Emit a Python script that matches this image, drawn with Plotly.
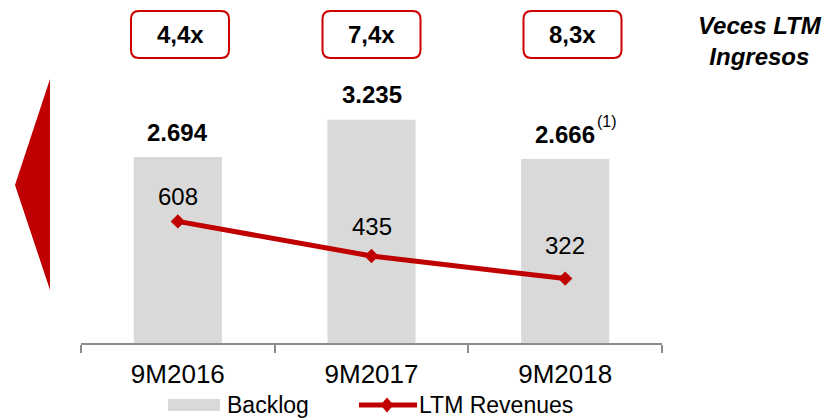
import plotly.graph_objects as go

# ---- data ----
categories = ["9M2016", "9M2017", "9M2018"]
backlog = [2694, 3235, 2666]
ltm_revenues = [608, 435, 322]
multiples = ["4,4x", "7,4x", "8,3x"]
series_names = ["Backlog", "LTM Revenues"]
side_title = "Veces LTM<br>Ingresos"
footnote = "(1)"

# ---- styling / positions ----
W, H = 825, 419
L, R, T, B = 81, 662, 0, 343  # plot area pixels
ltm_label_shift = [25, 30, 33]
box_centers = [180, 371.5, 572.5]

def xp(px):
    return (px - L) / (R - L)

def yp(py):
    return (B - py) / (B - T)

RED = "#C00000"
GRAY = "#D9D9D9"
FONT = "Liberation Sans, Arial, sans-serif"

def fmt(v):
    return f"{v:,}".replace(",", ".")

fig = go.Figure()
fig.add_trace(go.Bar(x=categories, y=backlog, name=series_names[0],
                     marker=dict(color=GRAY, line=dict(width=0)),
                     width=0.455, showlegend=False, hoverinfo="skip"))
fig.add_trace(go.Scatter(x=categories, y=ltm_revenues, name=series_names[1],
                         mode="lines+markers", yaxis="y2",
                         line=dict(color=RED, width=5),
                         marker=dict(symbol="diamond", size=11, color=RED),
                         showlegend=False, hoverinfo="skip"))

annotations = []
# bar value labels
for c, v in zip(categories, backlog):
    annotations.append(dict(x=c, y=v, xref="x", yref="y", text="<b>%s</b>" % fmt(v),
                            showarrow=False, yanchor="middle", yshift=25,
                            font=dict(family=FONT, size=24, color="black")))
# footnote on last bar
annotations.append(dict(x=categories[-1], y=backlog[-1], xref="x", yref="y", text=footnote,
                        showarrow=False, xanchor="left", yanchor="middle",
                        xshift=30, yshift=38,
                        font=dict(family=FONT, size=16, color="black")))
# line value labels
for c, v, s in zip(categories, ltm_revenues, ltm_label_shift):
    annotations.append(dict(x=c, y=v, xref="x", yref="y2", text=str(v),
                            showarrow=False, yanchor="middle", yshift=s,
                            font=dict(family=FONT, size=24, color="black")))

shapes = []
# multiple boxes
hw, hh, r = 49, 23.5, 8
box_path = (f"M{-hw + r},{-hh} L{hw - r},{-hh} Q{hw},{-hh} {hw},{-hh + r} "
            f"L{hw},{hh - r} Q{hw},{hh} {hw - r},{hh} L{-hw + r},{hh} "
            f"Q{-hw},{hh} {-hw},{hh - r} L{-hw},{-hh + r} Q{-hw},{-hh} {-hw + r},{-hh} Z")
for cx, m in zip(box_centers, multiples):
    shapes.append(dict(type="path", xref="paper", yref="paper",
                       xsizemode="pixel", ysizemode="pixel",
                       xanchor=xp(cx), yanchor=yp(34.5), path=box_path,
                       line=dict(color="#D00000", width=2), fillcolor="white"))
    annotations.append(dict(x=xp(cx), y=yp(34.5), xref="paper", yref="paper",
                            text="<b>%s</b>" % m, showarrow=False,
                            xanchor="center", yanchor="middle",
                            font=dict(family=FONT, size=24, color="black")))

# side title
annotations.append(dict(x=xp(760), y=yp(41), xref="paper", yref="paper",
                        text="<b><i>%s</i></b>" % side_title, showarrow=False,
                        xanchor="center", yanchor="middle",
                        font=dict(family=FONT, size=24, color="black")))

# red triangle on the left
shapes.append(dict(type="path", xref="paper", yref="paper",
                   path=f"M{xp(50)},{yp(79)} L{xp(15)},{yp(185)} L{xp(50)},{yp(290)} Z",
                   fillcolor=RED, line=dict(width=0)))

# custom legend
ly = 405
shapes.append(dict(type="rect", xref="paper", yref="paper",
                   x0=xp(168), x1=xp(220), y0=yp(ly - 6), y1=yp(ly + 6),
                   fillcolor=GRAY, line=dict(width=0)))
shapes.append(dict(type="line", xref="paper", yref="paper",
                   x0=xp(359), x1=xp(417), y0=yp(ly), y1=yp(ly),
                   line=dict(color=RED, width=5)))
shapes.append(dict(type="path", xref="paper", yref="paper",
                   xsizemode="pixel", ysizemode="pixel",
                   xanchor=xp(387), yanchor=yp(ly),
                   path="M0,-7.5 L6.5,0 L0,7.5 L-6.5,0 Z",
                   fillcolor=RED, line=dict(width=0)))
annotations.append(dict(x=xp(225), y=yp(ly), xref="paper", yref="paper",
                        text=series_names[0], showarrow=False,
                        xanchor="left", yanchor="middle",
                        font=dict(family=FONT, size=23, color="black")))
annotations.append(dict(x=xp(417), y=yp(ly), xref="paper", yref="paper",
                        text=series_names[1], showarrow=False,
                        xanchor="left", yanchor="middle",
                        font=dict(family=FONT, size=23, color="black")))

fig.update_layout(
    width=W, height=H,
    margin=dict(l=L, r=W - R, t=T, b=H - B, pad=0),
    paper_bgcolor="white", plot_bgcolor="white",
    showlegend=False,
    font=dict(family=FONT, color="black"),
    xaxis=dict(type="category", tickson="boundaries", ticks="outside", ticklen=8,
               tickcolor="#8C8C8C", tickwidth=1.5, showline=True, linecolor="#8C8C8C",
               linewidth=1.5, showgrid=False, zeroline=False,
               tickfont=dict(family=FONT, size=26, color="black"),
               ticklabelstandoff=7),
    yaxis=dict(range=[0, (B - T) / 0.069], visible=False, fixedrange=True),
    yaxis2=dict(range=[0, (B - T) / 0.2], overlaying="y", visible=False),
    shapes=shapes,
    annotations=annotations,
)

fig.write_html("out.html", config={"displayModeBar": False},
               post_script="document.body.style.margin='0';document.body.style.overflow='hidden';")
